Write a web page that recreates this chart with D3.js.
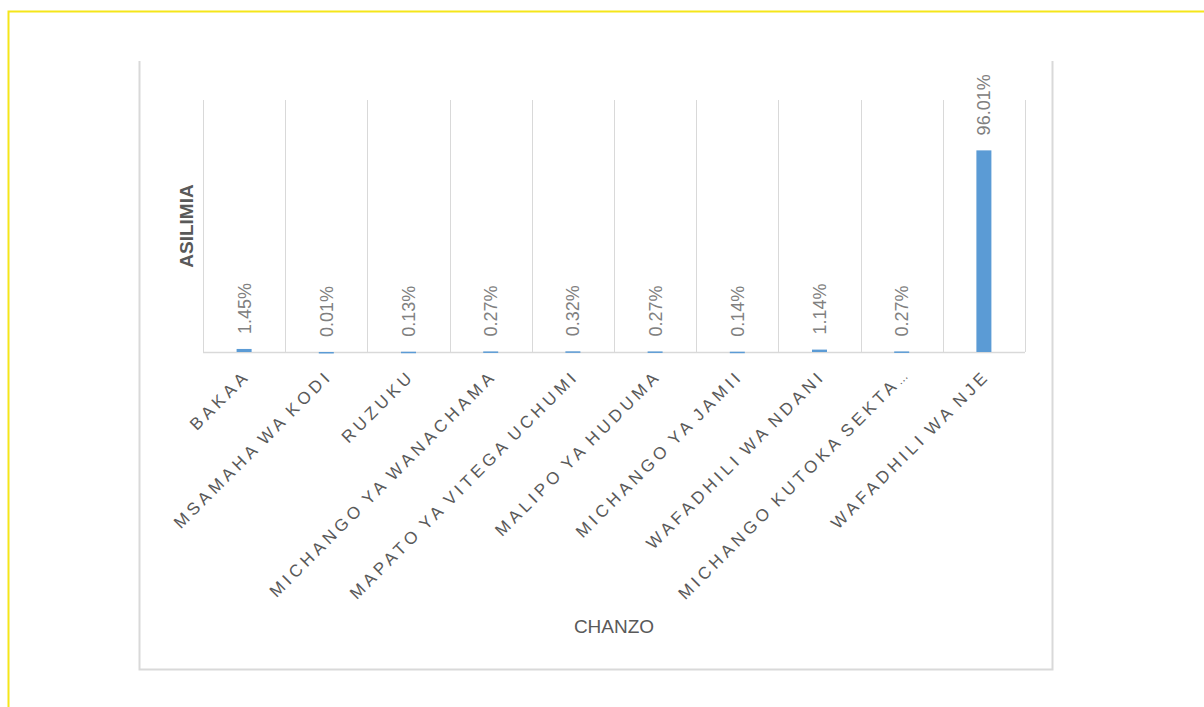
<!DOCTYPE html>
<html>
<head>
<meta charset="utf-8">
<script src="https://cdn.jsdelivr.net/npm/d3@7"></script>
<style>
  html, body { margin: 0; padding: 0; background: #ffffff; }
  svg { display: block; }
</style>
</head>
<body>
<svg id="chart" width="1204" height="707"></svg>
<script>
const categories = [
  "BAKAA",
  "MSAMAHA WA KODI",
  "RUZUKU",
  "MICHANGO YA WANACHAMA",
  "MAPATO YA VITEGA UCHUMI",
  "MALIPO YA HUDUMA",
  "MICHANGO YA JAMII",
  "WAFADHILI WA NDANI",
  "MICHANGO KUTOKA SEKTA\u2026",
  "WAFADHILI WA NJE"
];
const values = [1.45, 0.01, 0.13, 0.27, 0.32, 0.27, 0.14, 1.14, 0.27, 96.01];
const yDomain = [0, 120];
const yAxisTitle = "ASILIMIA";
const xAxisTitle = "CHANZO";

const svg = d3.select("#chart");
const W = 1204, H = 707;

// outer yellow border (partially visible)
svg.append("path")
  .attr("d", `M8.5,${H} L8.5,11.5 L${W},11.5`)
  .attr("fill", "none")
  .attr("stroke", "#f5e61a")
  .attr("stroke-width", 2);

// chart frame (left, bottom, right)
svg.append("path")
  .attr("d", "M139.5,61 L139.5,669.5 L1052.5,669.5 L1052.5,61")
  .attr("fill", "none")
  .attr("stroke", "#d9d9d9")
  .attr("stroke-width", 2);

const plot = { left: 203, right: 1025, top: 100, bottom: 352 };

const x = d3.scaleBand()
  .domain(categories)
  .range([plot.left, plot.right])
  .paddingInner(0)
  .paddingOuter(0);

const y = d3.scaleLinear()
  .domain(yDomain)
  .range([plot.bottom, plot.top]);

const g = svg.append("g");

// vertical gridlines at category boundaries
const bounds = categories.map(c => x(c)).concat([plot.right]);
g.selectAll("line.grid")
  .data(bounds)
  .join("line")
  .attr("class", "grid")
  .attr("x1", d => Math.round(d) + 0.5)
  .attr("x2", d => Math.round(d) + 0.5)
  .attr("y1", plot.top)
  .attr("y2", plot.bottom)
  .attr("stroke", "#d9d9d9")
  .attr("stroke-width", 1);

// category axis
const xAxis = d3.axisBottom(x).tickSize(0).tickPadding(0);
const axisG = g.append("g")
  .attr("transform", `translate(0,${plot.bottom})`)
  .call(xAxis);
axisG.select(".domain")
  .attr("stroke", "#d9d9d9")
  .attr("stroke-width", 1.5)
  .attr("d", `M${plot.left},0.5H${plot.right}`);
axisG.selectAll(".tick text")
  .attr("fill", "#595959")
  .attr("font-family", "'Liberation Sans', Arial, sans-serif")
  .attr("font-size", 17)
  .attr("letter-spacing", "4px")
  .attr("word-spacing", "-3px")
  .attr("text-anchor", "end")
  .attr("dy", 0)
  .attr("y", 0)
  .attr("transform", "translate(7,25) rotate(-45)")
  .each(function(d) {
    if (d.endsWith("\u2026")) {
      const t = d3.select(this);
      t.text(d.slice(0, -1));
      t.append("tspan")
        .attr("font-size", 12)
        .attr("letter-spacing", "0px")
        .text("\u2026");
    }
  });

// bars
const barW = 15;
g.selectAll("rect.bar")
  .data(values)
  .join("rect")
  .attr("class", "bar")
  .attr("x", (d, i) => x(categories[i]) + x.bandwidth() / 2 - barW / 2)
  .attr("width", barW)
  .attr("y", d => y(d))
  .attr("height", d => Math.max(1.5, plot.bottom - y(d)))
  .attr("fill", "#5b9bd5");

// data labels
g.selectAll("text.lbl")
  .data(values)
  .join("text")
  .attr("class", "lbl")
  .attr("transform", (d, i) => `translate(${x(categories[i]) + x.bandwidth() / 2},${y(d) - 15}) rotate(-90)`)
  .attr("dy", "0.36em")
  .attr("text-anchor", "start")
  .attr("fill", "#808080")
  .attr("font-family", "'Liberation Sans', Arial, sans-serif")
  .attr("font-size", 18)
  .text(d => d.toFixed(2) + "%");

// y axis title
svg.append("text")
  .attr("transform", "translate(186,226) rotate(-90)")
  .attr("dy", "0.36em")
  .attr("text-anchor", "middle")
  .attr("fill", "#595959")
  .attr("font-family", "'Liberation Sans', Arial, sans-serif")
  .attr("font-weight", "bold")
  .attr("font-size", 19)
  .text(yAxisTitle);

// x axis title
svg.append("text")
  .attr("x", (plot.left + plot.right) / 2)
  .attr("y", 633)
  .attr("text-anchor", "middle")
  .attr("fill", "#595959")
  .attr("font-family", "'Liberation Sans', Arial, sans-serif")
  .attr("font-size", 19)
  .text(xAxisTitle);
</script>
</body>
</html>
